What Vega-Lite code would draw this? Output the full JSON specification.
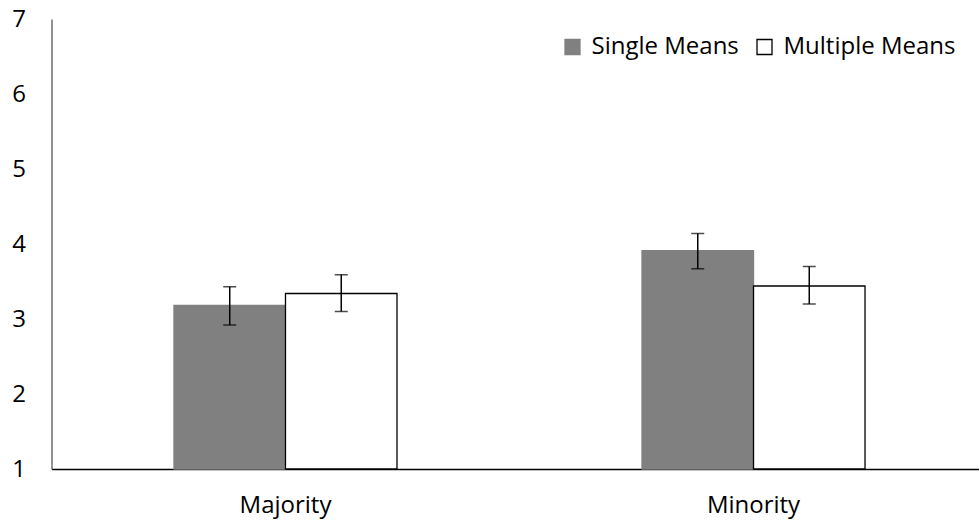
{
  "$schema": "https://vega.github.io/schema/vega-lite/v6.json",
  "width": 936,
  "height": 450,
  "autosize": "none",
  "padding": {"left": 51.5, "top": 19, "right": 0, "bottom": 58},
  "background": "white",
  "config": {"view": {"stroke": null}, "font": "Open Sans"},
  "data": {"values": [
    {"group": "Majority", "condition": "Single Means", "mean": 3.18, "lo": 2.92, "hi": 3.43},
    {"group": "Majority", "condition": "Multiple Means", "mean": 3.34, "lo": 3.10, "hi": 3.59},
    {"group": "Minority", "condition": "Single Means", "mean": 3.91, "lo": 3.67, "hi": 4.14},
    {"group": "Minority", "condition": "Multiple Means", "mean": 3.44, "lo": 3.20, "hi": 3.70}
  ]},
  "encoding": {
    "x": {"field": "group", "type": "nominal", "sort": ["Majority", "Minority"],
      "scale": {"paddingInner": 0.5235, "paddingOuter": 0.2617},
      "axis": {"title": null, "labelAngle": 0, "ticks": false, "domainColor": "#000000", "domainWidth": 1.3, "labelFontSize": 24, "labelColor": "#000000", "labelPadding": 24}},
    "xOffset": {"field": "condition", "type": "nominal", "sort": ["Single Means", "Multiple Means"], "scale": {"paddingInner": 0, "paddingOuter": 0}}
  },
  "layer": [
    {
      "mark": {"type": "bar", "strokeWidth": 1.3},
      "encoding": {
        "y": {"field": "mean", "type": "quantitative",
          "scale": {"domain": [1, 7], "nice": false, "zero": false},
          "axis": {"title": null, "values": [1, 2, 3, 4, 5, 6, 7], "format": "d", "ticks": false, "grid": false, "domainColor": "#595959", "domainWidth": 1.3, "labelFontSize": 24, "labelColor": "#000000", "labelPadding": 26}},
        "y2": {"datum": 1},
        "fill": {"field": "condition", "type": "nominal", "sort": ["Single Means", "Multiple Means"],
          "scale": {"domain": ["Single Means", "Multiple Means"], "range": ["#808080", "#ffffff"]},
          "legend": {"title": null, "orient": "none", "legendX": 509, "legendY": 16, "direction": "horizontal", "symbolType": "square", "symbolSize": 225, "labelFontSize": 24, "labelColor": "#000000", "labelLimit": 0, "columnPadding": 13, "labelOffset": 7, "symbolStrokeWidth": 1.3}},
        "stroke": {"field": "condition", "type": "nominal",
          "scale": {"domain": ["Single Means", "Multiple Means"], "range": ["#808080", "#000000"]},
          "legend": null}
      }
    },
    {
      "mark": {"type": "rule", "color": "#000000", "strokeWidth": 1.5},
      "encoding": {
        "y": {"field": "lo", "type": "quantitative"},
        "y2": {"field": "hi"}
      }
    },
    {
      "mark": {"type": "tick", "color": "#000000", "thickness": 1.5, "size": 13},
      "encoding": {"y": {"field": "lo", "type": "quantitative"}}
    },
    {
      "mark": {"type": "tick", "color": "#000000", "thickness": 1.5, "size": 13},
      "encoding": {"y": {"field": "hi", "type": "quantitative"}}
    }
  ]
}
